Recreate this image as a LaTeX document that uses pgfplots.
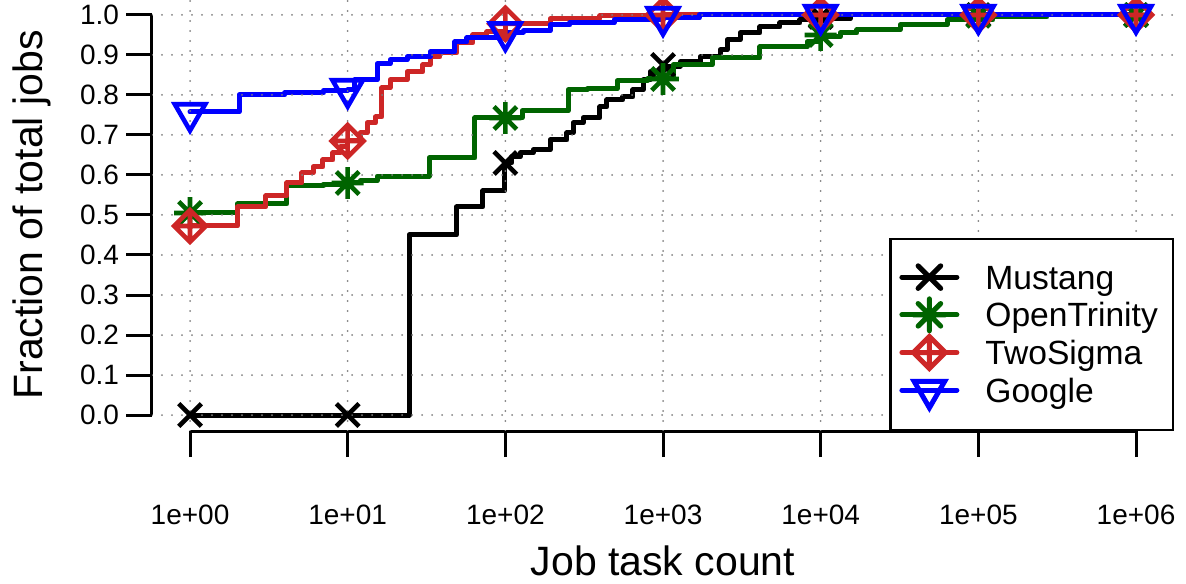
\documentclass[border=0pt]{standalone}
\usepackage{fontspec}
\setmainfont{Liberation Sans}
\usepackage{pgfplots}
\pgfplotsset{compat=1.18}

\definecolor{tsred}{RGB}{205,38,38}
\definecolor{otgreen}{RGB}{0,100,0}
\definecolor{gblue}{RGB}{0,0,255}

% R plotting symbols, \pgfplotmarksize is the R symbol radius
\pgfdeclareplotmark{rcross}{% pch 4
  \pgfpathmoveto{\pgfqpoint{-\pgfplotmarksize}{-\pgfplotmarksize}}%
  \pgfpathlineto{\pgfqpoint{\pgfplotmarksize}{\pgfplotmarksize}}%
  \pgfpathmoveto{\pgfqpoint{-\pgfplotmarksize}{\pgfplotmarksize}}%
  \pgfpathlineto{\pgfqpoint{\pgfplotmarksize}{-\pgfplotmarksize}}%
  \pgfusepathqstroke}
\pgfdeclareplotmark{rstar}{% pch 8
  \pgfpathmoveto{\pgfqpoint{-\pgfplotmarksize}{-\pgfplotmarksize}}%
  \pgfpathlineto{\pgfqpoint{\pgfplotmarksize}{\pgfplotmarksize}}%
  \pgfpathmoveto{\pgfqpoint{-\pgfplotmarksize}{\pgfplotmarksize}}%
  \pgfpathlineto{\pgfqpoint{\pgfplotmarksize}{-\pgfplotmarksize}}%
  \pgfpathmoveto{\pgfqpoint{-1.414\pgfplotmarksize}{0pt}}%
  \pgfpathlineto{\pgfqpoint{1.414\pgfplotmarksize}{0pt}}%
  \pgfpathmoveto{\pgfqpoint{0pt}{-1.414\pgfplotmarksize}}%
  \pgfpathlineto{\pgfqpoint{0pt}{1.414\pgfplotmarksize}}%
  \pgfusepathqstroke}
\pgfdeclareplotmark{rdiamplus}{% pch 9
  \pgfpathmoveto{\pgfqpoint{0pt}{1.414\pgfplotmarksize}}%
  \pgfpathlineto{\pgfqpoint{1.414\pgfplotmarksize}{0pt}}%
  \pgfpathlineto{\pgfqpoint{0pt}{-1.414\pgfplotmarksize}}%
  \pgfpathlineto{\pgfqpoint{-1.414\pgfplotmarksize}{0pt}}%
  \pgfpathclose
  \pgfpathmoveto{\pgfqpoint{-1.414\pgfplotmarksize}{0pt}}%
  \pgfpathlineto{\pgfqpoint{1.414\pgfplotmarksize}{0pt}}%
  \pgfpathmoveto{\pgfqpoint{0pt}{-1.414\pgfplotmarksize}}%
  \pgfpathlineto{\pgfqpoint{0pt}{1.414\pgfplotmarksize}}%
  \pgfusepathqstroke}
\pgfdeclareplotmark{rtridown}{% pch 6
  \pgfpathmoveto{\pgfqpoint{0pt}{-1.555\pgfplotmarksize}}%
  \pgfpathlineto{\pgfqpoint{1.347\pgfplotmarksize}{0.7775\pgfplotmarksize}}%
  \pgfpathlineto{\pgfqpoint{-1.347\pgfplotmarksize}{0.7775\pgfplotmarksize}}%
  \pgfpathclose
  \pgfusepathqstroke}

\begin{document}
\begin{tikzpicture}
\useasboundingbox (-76pt,-76pt) rectangle (517pt,215.5pt);
\begin{axis}[
    scale only axis,
    width=511pt, height=216pt,
    xmode=log,
    xmin=0.574, xmax=1.742e6,
    ymin=-0.04, ymax=1.04,
    clip=false,
    axis lines*=left,
    axis line style={draw=none},
    tick align=outside,
    major tick length=13pt,
    tick style={black, line width=1.5pt},
    xminorticks=false, yminorticks=false,
    xtick={1,10,100,1000,10000,100000,1000000},
    xticklabels={1e+00,1e+01,1e+02,1e+03,1e+04,1e+05,1e+06},
    ytick={0,0.1,0.2,0.3,0.4,0.5,0.6,0.7,0.8,0.9,1.0},
    yticklabels={0.0,0.1,0.2,0.3,0.4,0.5,0.6,0.7,0.8,0.9,1.0},
    ticklabel style={font=\fontsize{14}{16}\selectfont},
    xticklabel shift=20.5pt,
    grid=major,
    grid style={black!50, line width=1pt, dash pattern=on 0pt off 5pt, line cap=round},
    axis on top,
    xlabel={Job task count},
    ylabel={Fraction of total jobs},
    label style={font=\fontsize{20.5}{24}\selectfont},
    xlabel style={at={(axis description cs:0.5,-0.3356)}, anchor=base},
    ylabel style={at={(axis description cs:-0.1076,0.5)}, anchor=base},
    legend image code/.code={\draw[mark repeat=2,mark phase=2,#1] plot coordinates {(0pt,0pt) (13.75pt,0pt) (27.5pt,0pt)};},
    legend style={at={(1,0)}, anchor=south east, draw=black, line width=1.2pt, fill=white,
        font=\fontsize{16.8}{19}\selectfont, inner xsep=4.5pt, inner ysep=11pt,
        row sep=2.85pt, column sep=13pt,
        nodes={inner sep=0pt, text height=14pt, text depth=2pt}},
    legend cell align=left,
]
% Mustang
\addplot[black, line width=2.5pt, const plot, line join=round, line cap=round, forget plot] coordinates {
    (1,0) (24.5,0.45) (49,0.52) (72,0.56) (99,0.63) (110,0.645) (124,0.655) (150,0.6625)
    (192,0.6875) (246,0.705) (269,0.73) (311,0.7425) (398,0.77) (441,0.7875) (557,0.795)
    (645,0.8125) (747,0.8375) (827,0.8575) (1000,0.872) (1282,0.8825) (1717,0.895)
    (2299,0.9125) (2546,0.9375) (3079,0.955) (4121,0.97) (5520,0.98) (7393,0.9875)
    (9200,0.99) (15350,1.0) (1000000,1.0)
};
\addplot[black, only marks, mark=rcross, mark size=5.65pt, line width=2.3pt, forget plot] coordinates {
    (1,0) (10,0) (100,0.63) (1000,0.875) (10000,0.995) (100000,1) (1000000,1)
};
% OpenTrinity
\addplot[otgreen, line width=2.5pt, const plot, line join=round, line cap=round, forget plot] coordinates {
    (1,0.505) (2.0,0.5275) (4.12,0.5725) (7,0.577) (10,0.58) (12,0.585) (15.35,0.597)
    (32.8,0.6425) (64.2,0.7425) (127.6,0.76) (250,0.8125) (330,0.815) (511,0.835)
    (800,0.84) (1157,0.875) (2046,0.8925) (4121,0.92) (8190,0.9325) (10000,0.945)
    (13260,0.955) (16990,0.9625) (31850,0.975) (63300,0.9875) (123800,0.995)
    (272500,1.0) (1000000,1.0)
};
\addplot[otgreen, only marks, mark=rstar, mark size=5.65pt, line width=2.3pt, forget plot] coordinates {
    (1,0.505) (10,0.58) (100,0.7425) (1000,0.84) (10000,0.95) (100000,0.998) (1000000,1)
};
% TwoSigma
\addplot[tsred, line width=2.5pt, const plot, line join=round, line cap=round, forget plot] coordinates {
    (1,0.4725) (2.0,0.52) (3.03,0.5475) (4.12,0.58) (5.13,0.605) (6.03,0.62) (6.97,0.6375)
    (8.07,0.655) (8.94,0.67) (10,0.685) (12,0.705) (13.3,0.73) (15,0.745) (16.5,0.8175)
    (18.6,0.8375) (23.8,0.8575) (30,0.875) (33.3,0.895) (38.5,0.905) (49.3,0.93)
    (62.3,0.95) (76.5,0.9575) (100,0.978) (192,0.99) (398,0.998) (1000,1.0) (1000000,1.0)
};
\addplot[tsred, only marks, mark=rdiamplus, mark size=5.65pt, line width=2.3pt, forget plot] coordinates {
    (1,0.4725) (10,0.685) (100,0.978) (1000,1) (10000,1) (100000,1) (1000000,1)
};
% Google
\addplot[gblue, line width=2.5pt, const plot, line join=round, line cap=round, forget plot] coordinates {
    (1,0.7575) (2.05,0.8) (4,0.805) (7,0.81) (10,0.8125) (11.1,0.8375) (15.35,0.8775)
    (18.6,0.8875) (23.8,0.895) (33.3,0.9075) (47.9,0.9325) (57.1,0.9425) (100,0.957)
    (130,0.96) (192,0.975) (257,0.98) (490,0.9875) (1000,0.9925) (1700,1.0) (1000000,1.0)
};
\addplot[gblue, only marks, mark=rtridown, mark size=5.65pt, line width=2.3pt, forget plot] coordinates {
    (1,0.755) (10,0.815) (100,0.957) (1000,0.995) (10000,1) (100000,1) (1000000,1)
};
% R-style detached axis lines
\draw[line width=1.5pt] (axis cs:0.574,0) -- (axis cs:0.574,1);
\draw[line width=1.5pt] (axis cs:1,-0.04) -- (axis cs:1000000,-0.04);

\addlegendimage{black, line width=2.5pt, line cap=round, mark=rcross, mark size=5.65pt}
\addlegendentry{Mustang}
\addlegendimage{otgreen, line width=2.5pt, line cap=round, mark=rstar, mark size=5.65pt}
\addlegendentry{OpenTrinity\hspace*{3pt}}
\addlegendimage{tsred, line width=2.5pt, line cap=round, mark=rdiamplus, mark size=5.65pt}
\addlegendentry{TwoSigma}
\addlegendimage{gblue, line width=2.5pt, line cap=round, mark=rtridown, mark size=5.65pt}
\addlegendentry{Google}
\end{axis}
\end{tikzpicture}
\end{document}
